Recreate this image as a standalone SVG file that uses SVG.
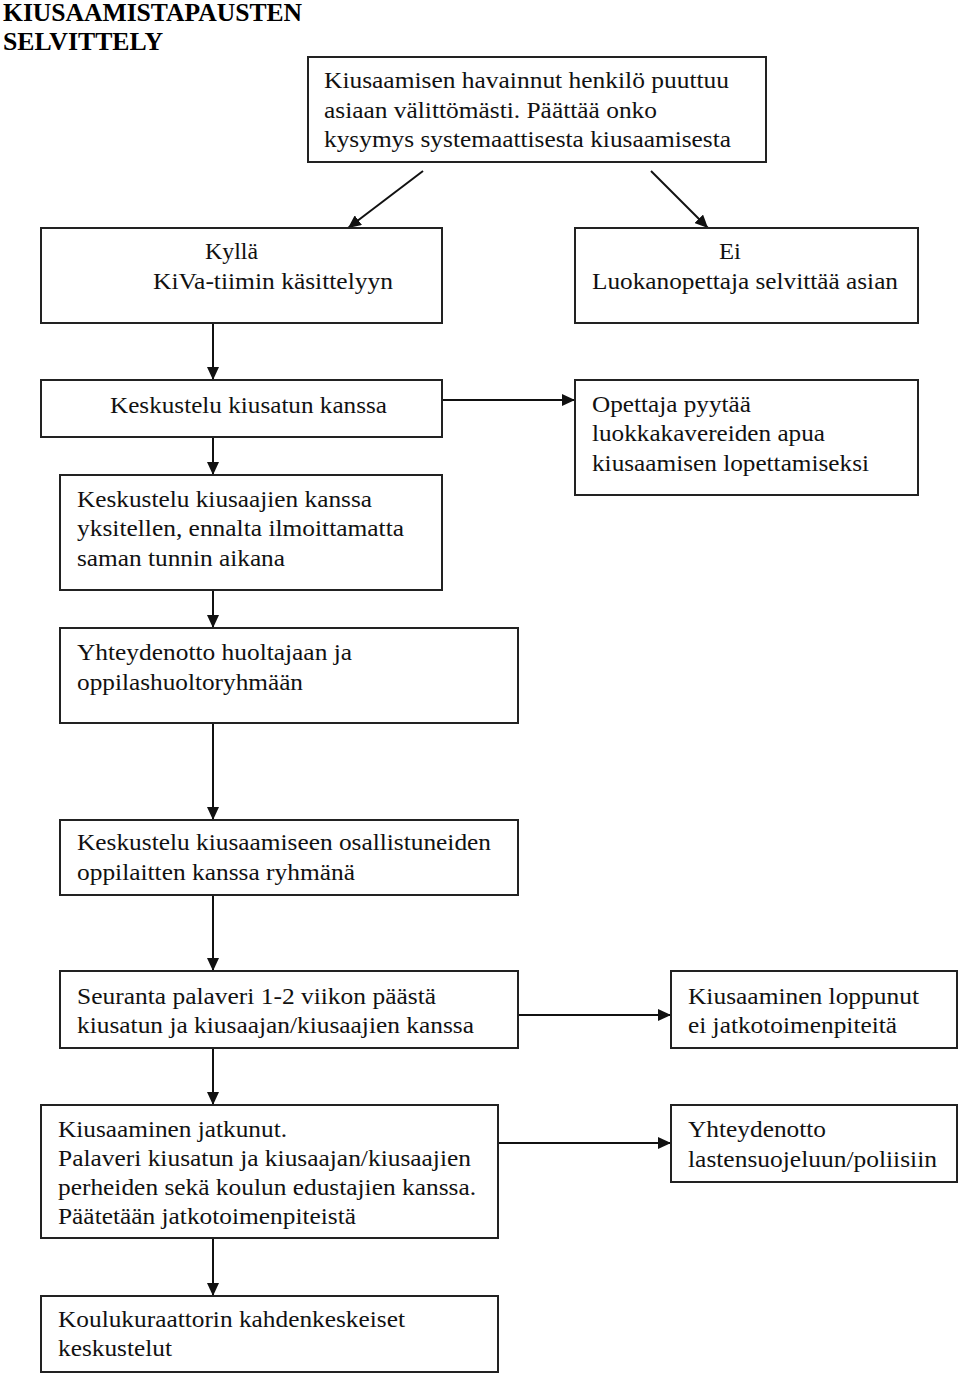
<svg xmlns="http://www.w3.org/2000/svg" width="960" height="1375" viewBox="0 0 960 1375">
<defs>
<marker id="ah" markerWidth="13" markerHeight="12" refX="13" refY="6" orient="auto" markerUnits="userSpaceOnUse">
<path d="M0,0 L13,6 L0,12 Z" fill="#111"/>
</marker>
<style>
.box{fill:#fff;stroke:#222;stroke-width:2}
.t{font-family:"Liberation Serif","Times New Roman",serif;font-size:23px;fill:#111}
.title{font-family:"Liberation Serif","Times New Roman",serif;font-size:26px;font-weight:bold;fill:#000}
.c{stroke:#111;stroke-width:2;fill:none;marker-end:url(#ah)}
</style>
</defs>
<rect width="960" height="1375" fill="#fff"/>
<g id="title">
<text class="title" x="3" y="21" textLength="299" lengthAdjust="spacingAndGlyphs">KIUSAAMISTAPAUSTEN</text>
<text class="title" x="3" y="50" textLength="160" lengthAdjust="spacingAndGlyphs">SELVITTELY</text>
</g>
<g id="connectors">
<line class="c" x1="423" y1="171" x2="348" y2="228"/>
<line class="c" x1="651" y1="171" x2="708" y2="228"/>
<line class="c" x1="213" y1="323" x2="213" y2="380"/>
<line class="c" x1="442" y1="400" x2="575" y2="400"/>
<line class="c" x1="213" y1="437" x2="213" y2="475"/>
<line class="c" x1="213" y1="590" x2="213" y2="628"/>
<line class="c" x1="213" y1="723" x2="213" y2="820"/>
<line class="c" x1="213" y1="895" x2="213" y2="971"/>
<line class="c" x1="518" y1="1015" x2="671" y2="1015"/>
<line class="c" x1="213" y1="1048" x2="213" y2="1105"/>
<line class="c" x1="498" y1="1143" x2="671" y2="1143"/>
<line class="c" x1="213" y1="1238" x2="213" y2="1296"/>
</g>
<g id="n1">
<rect class="box" x="308" y="57" width="458" height="105"/>
<text class="t" x="324" y="88" textLength="405" lengthAdjust="spacingAndGlyphs">Kiusaamisen havainnut henkilö puuttuu</text>
<text class="t" x="324" y="118" textLength="333" lengthAdjust="spacingAndGlyphs">asiaan välittömästi. Päättää onko</text>
<text class="t" x="324" y="147" textLength="407" lengthAdjust="spacingAndGlyphs">kysymys systemaattisesta kiusaamisesta</text>
</g>
<g id="n2">
<rect class="box" x="41" y="228" width="401" height="95"/>
<text class="t" x="205" y="259" textLength="53" lengthAdjust="spacingAndGlyphs">Kyllä</text>
<text class="t" x="153" y="289" textLength="240" lengthAdjust="spacingAndGlyphs">KiVa-tiimin käsittelyyn</text>
</g>
<g id="n3">
<rect class="box" x="575" y="228" width="343" height="95"/>
<text class="t" x="719" y="259" textLength="22" lengthAdjust="spacingAndGlyphs">Ei</text>
<text class="t" x="592" y="289" textLength="306" lengthAdjust="spacingAndGlyphs">Luokanopettaja selvittää asian</text>
</g>
<g id="n4">
<rect class="box" x="41" y="380" width="401" height="57"/>
<text class="t" x="110" y="413" textLength="277" lengthAdjust="spacingAndGlyphs">Keskustelu kiusatun kanssa</text>
</g>
<g id="n5">
<rect class="box" x="575" y="380" width="343" height="115"/>
<text class="t" x="592" y="412" textLength="159" lengthAdjust="spacingAndGlyphs">Opettaja pyytää</text>
<text class="t" x="592" y="441" textLength="233" lengthAdjust="spacingAndGlyphs">luokkakavereiden apua</text>
<text class="t" x="592" y="471" textLength="277" lengthAdjust="spacingAndGlyphs">kiusaamisen lopettamiseksi</text>
</g>
<g id="n6">
<rect class="box" x="60" y="475" width="382" height="115"/>
<text class="t" x="77" y="507" textLength="295" lengthAdjust="spacingAndGlyphs">Keskustelu kiusaajien kanssa</text>
<text class="t" x="77" y="536" textLength="327" lengthAdjust="spacingAndGlyphs">yksitellen, ennalta ilmoittamatta</text>
<text class="t" x="77" y="566" textLength="208" lengthAdjust="spacingAndGlyphs">saman tunnin aikana</text>
</g>
<g id="n7">
<rect class="box" x="60" y="628" width="458" height="95"/>
<text class="t" x="77" y="660" textLength="275" lengthAdjust="spacingAndGlyphs">Yhteydenotto huoltajaan ja</text>
<text class="t" x="77" y="690" textLength="226" lengthAdjust="spacingAndGlyphs">oppilashuoltoryhmään</text>
</g>
<g id="n8">
<rect class="box" x="60" y="820" width="458" height="75"/>
<text class="t" x="77" y="850" textLength="414" lengthAdjust="spacingAndGlyphs">Keskustelu kiusaamiseen osallistuneiden</text>
<text class="t" x="77" y="880" textLength="278" lengthAdjust="spacingAndGlyphs">oppilaitten kanssa ryhmänä</text>
</g>
<g id="n9">
<rect class="box" x="60" y="971" width="458" height="77"/>
<text class="t" x="77" y="1004" textLength="359" lengthAdjust="spacingAndGlyphs">Seuranta palaveri 1-2 viikon päästä</text>
<text class="t" x="77" y="1033" textLength="397" lengthAdjust="spacingAndGlyphs">kiusatun ja kiusaajan/kiusaajien kanssa</text>
</g>
<g id="n10">
<rect class="box" x="671" y="971" width="286" height="77"/>
<text class="t" x="688" y="1004" textLength="231" lengthAdjust="spacingAndGlyphs">Kiusaaminen loppunut</text>
<text class="t" x="688" y="1033" textLength="209" lengthAdjust="spacingAndGlyphs">ei jatkotoimenpiteitä</text>
</g>
<g id="n11">
<rect class="box" x="41" y="1105" width="457" height="133"/>
<text class="t" x="58" y="1137" textLength="229" lengthAdjust="spacingAndGlyphs">Kiusaaminen jatkunut.</text>
<text class="t" x="58" y="1166" textLength="413" lengthAdjust="spacingAndGlyphs">Palaveri kiusatun ja kiusaajan/kiusaajien</text>
<text class="t" x="58" y="1195" textLength="418" lengthAdjust="spacingAndGlyphs">perheiden sekä koulun edustajien kanssa.</text>
<text class="t" x="58" y="1224" textLength="298" lengthAdjust="spacingAndGlyphs">Päätetään jatkotoimenpiteistä</text>
</g>
<g id="n12">
<rect class="box" x="671" y="1105" width="286" height="77"/>
<text class="t" x="688" y="1137" textLength="138" lengthAdjust="spacingAndGlyphs">Yhteydenotto</text>
<text class="t" x="688" y="1167" textLength="249" lengthAdjust="spacingAndGlyphs">lastensuojeluun/poliisiin</text>
</g>
<g id="n13">
<rect class="box" x="41" y="1296" width="457" height="76"/>
<text class="t" x="58" y="1327" textLength="347" lengthAdjust="spacingAndGlyphs">Koulukuraattorin kahdenkeskeiset</text>
<text class="t" x="58" y="1356" textLength="114" lengthAdjust="spacingAndGlyphs">keskustelut</text>
</g>
</svg>
